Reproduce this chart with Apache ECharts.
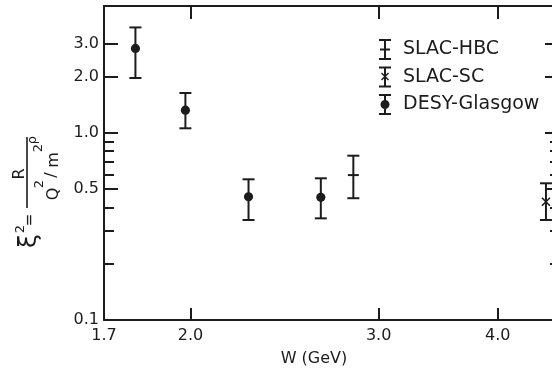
<!DOCTYPE html>
<html>
<head>
<meta charset="utf-8">
<script src="https://cdn.jsdelivr.net/npm/echarts@6/dist/echarts.min.js"></script>
<style>
html, body { margin: 0; background: #fff; }
#chart { width: 552px; height: 373px; }
</style>
</head>
<body>
<div id="chart"></div>
<script>
// W axis of the original is not linear: it follows log10(W - 0.7)
const toX = w => Math.log10(w - 0.7);

const xTickW = [2.0, 3.0, 4.0];
const xLabelW = [1.7, 2.0, 3.0, 4.0];
const xLabels = ['1.7', '2.0', '3.0', '4.0'];
const yMajor = [0.1, 0.5, 1.0, 2.0, 3.0];
const yMinor = [0.2, 0.3, 0.4, 0.6, 0.7, 0.8, 0.9];

// DESY-Glasgow
const desyW = [1.80, 1.98, 2.25, 2.63];
const desyR = [2.82, 1.32, 0.455, 0.452];
const desyLo = [1.96, 1.056, 0.342, 0.349];
const desyHi = [3.65, 1.63, 0.564, 0.571];
// SLAC-HBC
const hbcW = [2.83];
const hbcR = [0.594];
const hbcLo = [0.447];
const hbcHi = [0.754];
// SLAC-SC
const scW = [4.52];
const scR = [0.428];
const scLo = [0.342];
const scHi = [0.537];

const ink = '#1c1c1c';
const font = 'DejaVu Sans';
const xMax = toX(4.65);
const yMax = 4.75;

const rows = (w, r, lo, hi) => w.map((v, i) => [toX(v), r[i], lo[i], hi[i]]);

const errBar = marker => (params, api) => {
    const x = api.value(0);
    const c = api.coord([x, api.value(1)]);
    const lo = api.coord([x, api.value(2)]);
    const hi = api.coord([x, api.value(3)]);
    const st = { stroke: ink, lineWidth: 2 };
    const kids = [
        { type: 'line', shape: { x1: c[0], y1: lo[1], x2: c[0], y2: hi[1] }, style: st },
        { type: 'line', shape: { x1: c[0] - 6, y1: hi[1], x2: c[0] + 6, y2: hi[1] }, style: st },
        { type: 'line', shape: { x1: c[0] - 6, y1: lo[1], x2: c[0] + 6, y2: lo[1] }, style: st }
    ];
    if (marker === 'dot') {
        kids.push({ type: 'circle', shape: { cx: c[0], cy: c[1], r: 4.6 }, style: { fill: ink } });
    } else if (marker === 'plus') {
        kids.push({ type: 'line', shape: { x1: c[0] - 5.5, y1: c[1], x2: c[0] + 5.5, y2: c[1] }, style: st });
    } else {
        kids.push({ type: 'line', shape: { x1: c[0] - 4, y1: c[1] - 4, x2: c[0] + 4, y2: c[1] + 4 }, style: { stroke: ink, lineWidth: 1.6 } });
        kids.push({ type: 'line', shape: { x1: c[0] + 4, y1: c[1] - 4, x2: c[0] - 4, y2: c[1] + 4 }, style: { stroke: ink, lineWidth: 1.6 } });
    }
    return { type: 'group', children: kids };
};

const capsPath = 'M0,0H12V2H0Z M0,19H12V21H0Z M5,0H7V21H5Z ';
const iconHBC = 'path://' + capsPath + 'M1,9.5H11V11.5H1Z';
const iconSC = 'path://' + capsPath + 'M2,7L3,6L10,13L9,14Z M9,6L10,7L3,14L2,13Z';
const iconDESY = 'path://' + capsPath + 'M1.5,10.5A4.5,4.5 0 1,1 10.5,10.5A4.5,4.5 0 1,1 1.5,10.5Z';

const lineStyle = { color: ink, width: 2 };
// plot frame runs a few pixels past the right edge of the picture
const gridBox = { left: 104, top: 6, width: 453, height: 314, outerBoundsMode: 'none' };

const xBase = {
    type: 'value', min: 0, max: xMax,
    axisLine: { onZero: false, lineStyle: lineStyle },
    splitLine: { show: false }
};
const yBase = {
    type: 'log', logBase: 10, min: 0.1, max: yMax,
    axisLine: { show: false, onZero: false },
    splitLine: { show: false }
};

const chart = echarts.init(document.getElementById('chart'));
chart.setOption({
    backgroundColor: '#fff',
    animation: false,
    grid: [gridBox, Object.assign({}, gridBox)],
    legend: {
        orient: 'vertical',
        left: 374,
        top: 34,
        itemWidth: 12,
        itemHeight: 21,
        itemGap: 6.5,
        selectedMode: false,
        textStyle: { fontFamily: font, fontSize: 19, color: ink, padding: [0, 0, 0, 7] },
        data: [
            { name: 'SLAC-HBC', icon: iconHBC },
            { name: 'SLAC-SC', icon: iconSC },
            { name: 'DESY-Glasgow', icon: iconDESY }
        ]
    },
    xAxis: [
        Object.assign({}, xBase, {
            position: 'bottom', gridIndex: 0,
            axisTick: { inside: true, length: 12, lineStyle: lineStyle, customValues: xTickW.map(toX) },
            axisLabel: {
                customValues: xLabelW.map(toX),
                formatter: v => xLabels[xLabelW.findIndex(w => Math.abs(toX(w) - v) < 1e-6)],
                fontFamily: font, fontSize: 16, color: ink, margin: 8
            }
        }),
        Object.assign({}, xBase, {
            position: 'top', gridIndex: 0,
            axisTick: { inside: true, length: 13, lineStyle: lineStyle, customValues: xTickW.map(toX) },
            axisLabel: { show: false }
        }),
        Object.assign({}, xBase, { gridIndex: 1, show: false })
    ],
    yAxis: [
        Object.assign({}, yBase, {
            position: 'left', gridIndex: 0,
            axisLine: { show: true, onZero: false, lineStyle: lineStyle },
            axisTick: { inside: true, length: 14, lineStyle: lineStyle, customValues: yMajor },
            axisLabel: {
                customValues: yMajor,
                formatter: v => v.toFixed(1),
                fontFamily: font, fontSize: 16, color: ink, margin: 5
            }
        }),
        Object.assign({}, yBase, {
            position: 'right', gridIndex: 0,
            axisLine: { show: true, onZero: false, lineStyle: lineStyle },
            axisTick: { inside: true, length: 12, lineStyle: lineStyle, customValues: yMajor },
            axisLabel: { show: false }
        }),
        Object.assign({}, yBase, {
            position: 'left', gridIndex: 1,
            axisTick: { inside: true, length: 10, lineStyle: lineStyle, customValues: yMinor },
            axisLabel: { show: false }
        }),
        Object.assign({}, yBase, {
            position: 'right', gridIndex: 1,
            axisTick: { inside: true, length: 7, lineStyle: lineStyle, customValues: yMinor },
            axisLabel: { show: false }
        })
    ],
    graphic: [
        { type: 'text', x: 314, y: 359, style: { text: 'W (GeV)', font: '16px ' + font, fill: ink, align: 'center', verticalAlign: 'middle' } },
        // vertical axis title: xi^2 = R / (Q^2/m^2_rho)
        { type: 'text', x: 29, y: 241, rotation: Math.PI / 2, style: { text: 'ξ', font: '25px ' + font, fill: ink, align: 'center', verticalAlign: 'middle' } },
        { type: 'text', x: 21, y: 229, rotation: Math.PI / 2, style: { text: '2', font: '13px ' + font, fill: ink, align: 'center', verticalAlign: 'middle' } },
        { type: 'text', x: 30.5, y: 220, rotation: Math.PI / 2, style: { text: '=', font: '15px ' + font, fill: ink, align: 'center', verticalAlign: 'middle' } },
        { type: 'line', shape: { x1: 27, y1: 137, x2: 27, y2: 208 }, style: { stroke: ink, lineWidth: 1.6 } },
        { type: 'text', x: 20, y: 174, rotation: Math.PI / 2, style: { text: 'R', font: '16px ' + font, fill: ink, align: 'center', verticalAlign: 'middle' } },
        { type: 'text', x: 54, y: 194, rotation: Math.PI / 2, style: { text: 'Q', font: '16px ' + font, fill: ink, align: 'center', verticalAlign: 'middle' } },
        { type: 'text', x: 40, y: 184, rotation: Math.PI / 2, style: { text: '2', font: '13px ' + font, fill: ink, align: 'center', verticalAlign: 'middle' } },
        { type: 'text', x: 52, y: 175, rotation: Math.PI / 2, style: { text: '/', font: '16px ' + font, fill: ink, align: 'center', verticalAlign: 'middle' } },
        { type: 'text', x: 54, y: 160, rotation: Math.PI / 2, style: { text: 'm', font: '16px ' + font, fill: ink, align: 'center', verticalAlign: 'middle' } },
        { type: 'text', x: 39, y: 148, rotation: Math.PI / 2, style: { text: '2', font: '13px ' + font, fill: ink, align: 'center', verticalAlign: 'middle' } },
        { type: 'text', x: 33, y: 140, rotation: Math.PI / 2, style: { text: 'ρ', font: '13px ' + font, fill: ink, align: 'center', verticalAlign: 'middle' } }
    ],
    series: [
        {
            name: 'SLAC-HBC', type: 'custom', xAxisIndex: 0, yAxisIndex: 0,
            itemStyle: { color: ink },
            renderItem: errBar('plus'),
            data: rows(hbcW, hbcR, hbcLo, hbcHi)
        },
        {
            name: 'SLAC-SC', type: 'custom', xAxisIndex: 0, yAxisIndex: 0,
            itemStyle: { color: ink },
            renderItem: errBar('cross'),
            data: rows(scW, scR, scLo, scHi)
        },
        {
            name: 'DESY-Glasgow', type: 'custom', xAxisIndex: 0, yAxisIndex: 0,
            itemStyle: { color: ink },
            renderItem: errBar('dot'),
            data: rows(desyW, desyR, desyLo, desyHi)
        }
    ]
});
</script>
</body>
</html>
